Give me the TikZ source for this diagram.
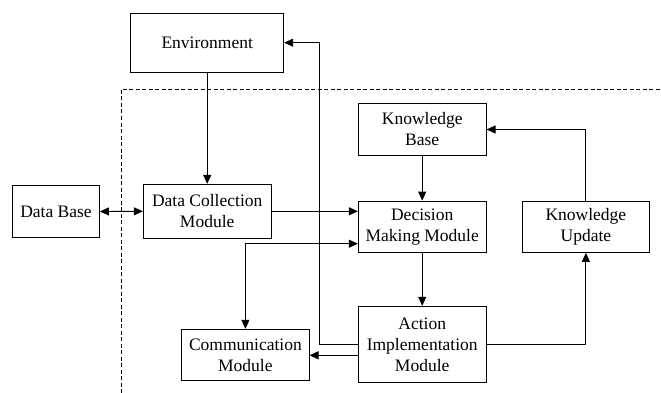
\documentclass[tikz,border=0pt]{standalone}
\usepackage{fontspec}
\setmainfont{Liberation Serif}
\usetikzlibrary{arrows.meta,calc}
\begin{document}
\begin{tikzpicture}[x=1pt,y=1pt,
  box/.style={draw,line width=0.9pt,align=center,inner sep=0pt,font=\fontsize{17.5}{21}\selectfont},
  conn/.style={line width=0.9pt,-{Triangle[length=9pt,width=8pt]}},
  bconn/.style={line width=0.9pt,{Triangle[length=9pt,width=8pt]}-{Triangle[length=9pt,width=8pt]}}]
\useasboundingbox (0,0) rectangle (661,-393);
% dashed boundary
\draw[line width=0.8pt,dash pattern=on 4pt off 2.5pt] (121,-393) -- (121,-89) -- (661,-89);
% nodes
\node[box,minimum width=153pt,minimum height=59.4pt] (env) at (207.2,-43) {Environment};
\node[box,minimum width=87pt,minimum height=51.6pt] (db) at (56,-211.5) {Data Base};
\node[box,minimum width=127.8pt,minimum height=54pt] (dcm) at (207.2,-211.3) {Data Collection\\Module};
\node[box,minimum width=127.8pt,minimum height=51.6pt] (kb) at (422.2,-129.5) {Knowledge\\Base};
\node[box,minimum width=127.8pt,minimum height=51.3pt] (dmm) at (422.2,-226.7) {Decision\\Making Module};
\node[box,minimum width=127.7pt,minimum height=51.3pt] (ku) at (585.9,-226.7) {Knowledge\\Update};
\node[box,minimum width=127.3pt,minimum height=51pt] (comm) at (245.4,-354.8) {Communication\\Module};
\node[box,minimum width=127.8pt,minimum height=76.4pt] (aim) at (422.2,-344.5) {Action\\Implementation\\Module};
% helper coordinates
\coordinate (c1) at (245.4,-243.7);
\coordinate (c2) at (330,-355.3);
\coordinate (c3) at (319,-344.3);
\coordinate (c4) at (319,-42.7);
\coordinate (c5) at (330,-211.3);
% connectors
\draw[conn] (env.south) -- (dcm.north);
\draw[bconn] (db.east) -- (dcm.west);
\draw[conn] (dcm.east) -- (dmm.west |- c5);
\draw[conn] (kb.south) -- (dmm.north);
\draw[conn] (dmm.south) -- (aim.north);
\draw[bconn] (comm.north) -- (c1) -- (dmm.west |- c1);
\draw[conn] (aim.west |- c2) -- (comm.east |- c2);
\draw[conn] (aim.west |- c3) -- (c3) -- (c4) -- (env.east |- c4);
\draw[conn] (aim.east |- c3) -| (ku.south);
\draw[conn] (ku.north) |- (kb.east);
\end{tikzpicture}
\end{document}
